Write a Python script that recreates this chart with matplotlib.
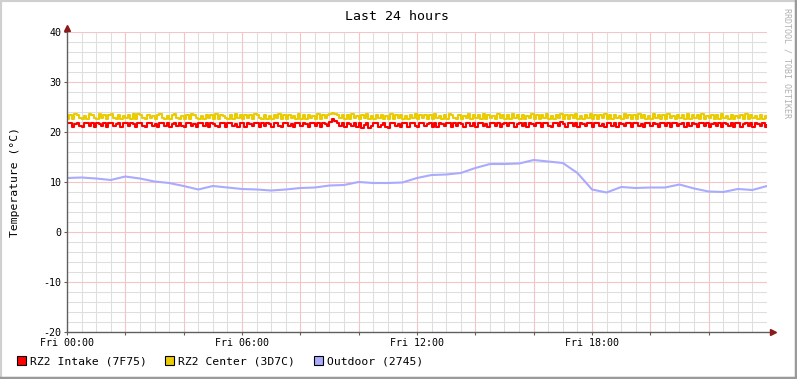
import numpy as np
import matplotlib
matplotlib.use("Agg")
import matplotlib.pyplot as plt
from matplotlib.patches import Rectangle
from matplotlib.lines import Line2D

# Temperatures sampled every 5 minutes over the last 24 hours (one row = 2 hours)
intake = [
    21.9, 21.8, 21.1, 21.7, 21.9, 21.2, 21.0, 21.8, 21.9, 21.3, 21.8, 21.1, 21.9, 21.7, 21.2, 21.8, 21.0, 21.9, 21.8, 21.2, 21.6, 21.9, 21.1, 21.8,
    21.8, 21.2, 21.9, 21.7, 21.1, 21.8, 21.9, 21.3, 21.0, 21.8, 21.9, 21.2, 21.7, 21.1, 21.9, 21.8, 21.2, 21.9, 21.0, 21.7, 21.8, 21.2, 21.9, 21.3,
    21.1, 21.8, 21.9, 21.2, 21.7, 21.0, 21.9, 21.8, 21.3, 21.8, 21.1, 21.9, 21.7, 21.2, 21.0, 21.9, 21.8, 21.1, 21.8, 21.9, 21.2, 21.7, 21.1, 21.9,
    21.8, 21.1, 21.9, 21.7, 21.2, 21.9, 21.8, 21.0, 21.8, 21.2, 21.9, 21.7, 21.1, 21.8, 21.9, 21.2, 21.0, 21.8, 21.9, 21.3, 21.7, 21.1, 21.9, 21.8,
    21.2, 21.9, 21.7, 21.1, 21.8, 21.9, 21.2, 21.8, 21.0, 21.9, 21.7, 21.2, 22.1, 22.6, 22.3, 21.9, 21.2, 21.8, 21.1, 21.9, 21.7, 21.2, 21.8, 21.0,
    21.8, 20.9, 21.4, 21.9, 20.8, 21.2, 21.8, 21.9, 21.0, 21.5, 21.9, 21.1, 20.9, 21.8, 21.9, 21.2, 21.7, 21.0, 21.9, 21.8, 21.1, 21.8, 21.9, 21.3,
    21.1, 21.9, 21.8, 21.2, 21.7, 21.9, 21.1, 21.8, 21.0, 21.9, 21.7, 21.2, 21.8, 21.9, 21.1, 21.8, 21.2, 21.9, 21.7, 21.1, 21.9, 21.8, 21.2, 21.8,
    21.0, 21.8, 21.9, 21.2, 21.7, 21.1, 21.9, 21.8, 21.2, 21.9, 21.0, 21.7, 21.8, 21.2, 21.9, 21.8, 21.1, 21.7, 21.9, 21.2, 21.8, 21.0, 21.9, 21.7,
    21.2, 21.9, 21.8, 21.1, 21.8, 21.9, 21.2, 21.0, 21.9, 21.8, 21.2, 22.0, 21.7, 21.1, 21.9, 21.8, 21.2, 21.8, 21.0, 21.9, 21.7, 21.2, 21.8, 21.9,
    21.1, 21.8, 21.9, 21.2, 21.7, 21.0, 21.9, 21.8, 21.2, 21.9, 21.1, 21.8, 21.7, 21.2, 21.9, 21.8, 21.0, 21.8, 21.9, 21.2, 21.7, 21.1, 21.9, 21.8,
    21.2, 21.9, 21.7, 21.1, 21.8, 21.9, 21.2, 21.8, 21.0, 21.9, 21.8, 21.2, 21.7, 21.9, 21.1, 21.8, 21.2, 21.9, 21.7, 21.0, 21.8, 21.9, 21.2, 21.8,
    21.0, 21.7, 21.9, 21.2, 21.8, 21.1, 21.9, 21.7, 21.2, 21.8, 21.0, 21.9, 21.8, 21.1, 21.7, 21.9, 21.2, 21.8, 21.0, 21.9, 21.7, 21.2, 21.8, 21.1,
    21.4]
center = [
    22.6, 23.5, 22.7, 23.6, 23.4, 22.8, 22.7, 23.3, 22.6, 23.6, 23.5, 22.8, 22.7, 23.6, 22.9, 23.4, 22.6, 23.5, 23.6, 22.8, 22.7, 23.4, 22.6, 23.2,
    22.8, 23.5, 22.7, 23.6, 22.6, 23.6, 23.4, 22.8, 22.7, 23.5, 22.9, 23.3, 22.6, 23.4, 23.6, 22.8, 22.7, 23.2, 22.6, 23.5, 23.6, 22.8, 22.7, 23.3,
    22.7, 23.4, 22.6, 23.6, 23.5, 22.8, 22.7, 23.3, 22.6, 23.5, 22.8, 23.4, 22.7, 23.6, 22.6, 23.5, 23.3, 22.8, 22.7, 23.5, 22.6, 23.6, 22.8, 23.4,
    22.6, 23.5, 22.8, 23.4, 22.7, 23.6, 23.5, 22.8, 22.6, 23.4, 22.7, 23.3, 22.6, 23.5, 22.8, 23.6, 22.7, 23.4, 22.6, 23.5, 22.8, 23.3, 22.7, 23.6,
    22.7, 23.4, 22.6, 23.5, 22.8, 23.3, 22.7, 23.6, 22.6, 23.5, 22.9, 23.5, 23.6, 23.9, 23.7, 23.4, 22.8, 23.5, 22.7, 23.4, 22.6, 23.6, 22.8, 23.3,
    22.6, 23.5, 22.8, 23.6, 22.7, 23.2, 22.6, 23.5, 22.8, 23.4, 22.6, 23.3, 22.7, 23.6, 22.6, 23.4, 22.8, 23.5, 22.7, 23.2, 22.6, 23.5, 22.8, 23.6,
    22.7, 23.5, 22.8, 23.4, 22.6, 23.5, 22.7, 23.6, 22.8, 23.3, 22.6, 23.5, 22.7, 23.6, 23.4, 22.8, 22.6, 23.5, 22.7, 23.3, 22.8, 23.6, 22.6, 23.4,
    22.8, 23.4, 22.7, 23.6, 22.6, 23.5, 22.8, 23.3, 22.7, 23.6, 22.8, 23.4, 22.6, 23.5, 22.7, 23.6, 22.8, 23.4, 22.6, 23.5, 22.7, 23.3, 22.8, 23.6,
    22.6, 23.5, 22.7, 23.4, 22.8, 23.6, 22.7, 23.3, 22.6, 23.5, 22.8, 23.6, 22.7, 23.5, 22.6, 23.4, 22.8, 23.6, 22.7, 23.3, 22.6, 23.5, 22.8, 23.6,
    22.7, 23.4, 22.6, 23.5, 22.8, 23.6, 22.7, 23.4, 22.6, 23.5, 22.8, 23.3, 22.7, 23.6, 22.8, 23.5, 22.6, 23.4, 22.7, 23.6, 22.8, 23.5, 22.6, 23.3,
    22.7, 23.6, 22.8, 23.4, 22.6, 23.5, 22.7, 23.6, 22.8, 23.3, 22.6, 23.4, 22.8, 23.5, 22.7, 23.6, 22.6, 23.4, 22.8, 23.5, 22.7, 23.6, 22.6, 23.3,
    22.8, 23.5, 22.6, 23.4, 22.7, 23.6, 22.8, 23.3, 22.6, 23.5, 22.7, 23.2, 22.8, 23.5, 22.6, 23.6, 22.7, 23.4, 22.8, 23.3, 22.6, 23.5, 22.7, 23.2,
    22.8]
# Outdoor sampled every 30 minutes
outdoor = [10.8, 10.9, 10.7, 10.4, 11.1, 10.7, 10.1, 9.8, 9.2, 8.5, 9.2, 8.9,
           8.6, 8.5, 8.3, 8.5, 8.8, 8.9, 9.3, 9.4, 10.0, 9.8, 9.8, 9.9,
           10.8, 11.4, 11.5, 11.8, 12.8, 13.6, 13.6, 13.7, 14.4, 14.1, 13.8, 11.8,
           8.5, 7.9, 9.0, 8.8, 8.9, 8.9, 9.5, 8.7, 8.1, 8.0, 8.6, 8.4, 9.2]

series_names = ["RZ2 Intake (7F75)", "RZ2 Center (3D7C)", "Outdoor (2745)"]
series_colors = ["#FF0000", "#EACC00", "#AAAAFF"]
x_labels = ["Fri 00:00", "Fri 06:00", "Fri 12:00", "Fri 18:00"]

W, H = 797, 379
fig = plt.figure(figsize=(W / 100, H / 100), dpi=100, facecolor="white")
ax = fig.add_axes([67 / W, (H - 332) / H, 700 / W, 300 / H])

mono = "DejaVu Sans Mono"

t_fast = np.arange(len(intake)) * 5 / 60
t_slow = np.arange(len(outdoor)) * 30 / 60

lw = 1.5
ax.plot(t_fast, center, color=series_colors[1], lw=lw, drawstyle="steps-post", zorder=3)
ax.plot(t_fast, intake, color=series_colors[0], lw=lw, drawstyle="steps-post", zorder=3)
ax.plot(t_slow, outdoor, color=series_colors[2], lw=lw, zorder=3)

ax.set_xlim(0, 24)
ax.set_ylim(-20, 40)

# grid: minor every 30 min / 2 deg, major every 2 h / 10 deg
for h in np.arange(0.5, 24, 0.5):
    ax.axvline(h, color="#dedede", lw=0.75, zorder=1)
for v in np.arange(-18, 40, 2):
    ax.axhline(v, color="#dedede", lw=0.75, zorder=1)
for h in np.arange(2, 24, 2):
    ax.axvline(h, color="#f6c4c4", lw=0.75, zorder=2)
for v in np.arange(-10, 41, 10):
    ax.axhline(v, color="#f6c4c4", lw=0.75, zorder=2)

for s in ax.spines.values():
    s.set_visible(False)
ax.set_facecolor("white")

ax.set_xticks(np.arange(0, 24, 2))
ax.set_xticklabels([x_labels[i // 3] if i % 3 == 0 else "" for i in range(12)],
                   fontfamily=mono, fontsize=7.2)
ax.set_yticks(np.arange(-20, 41, 10))
ax.set_yticklabels([str(v) for v in range(-20, 41, 10)], fontfamily=mono, fontsize=7.2)
ax.tick_params(axis="both", length=2, width=0.8, color="#606060", pad=2)

# axis lines with arrows
ax.add_line(Line2D([0, 1.006], [0, 0], transform=ax.transAxes, color="#606060",
                   lw=1, clip_on=False, zorder=5))
ax.add_line(Line2D([0, 0], [0, 1.01], transform=ax.transAxes, color="#606060",
                   lw=1, clip_on=False, zorder=5))
ax.plot([1.008], [0], marker=">", color="#8b1a1a", ms=4, transform=ax.transAxes,
        clip_on=False, zorder=6)
ax.plot([0], [1.012], marker="^", color="#8b1a1a", ms=4, transform=ax.transAxes,
        clip_on=False, zorder=6)

fig.text(397 / W, 1 - 16 / H, "Last 24 hours", ha="center", va="center",
         fontfamily=mono, fontsize=9.5)
fig.text(15 / W, 1 - 182 / H, "Temperature (°C)", ha="center", va="center",
         rotation=90, fontfamily=mono, fontsize=8.2)
fig.text(787 / W, 1 - 63 / H, "RRDTOOL / TOBI OETIKER", ha="center", va="center",
         rotation=270, fontfamily=mono, fontsize=6, color="#b0b0b0")

# legend
legend_x = [17, 165, 314]
for x0, name, col in zip(legend_x, series_names, series_colors):
    fig.patches.append(Rectangle((x0 / W, 1 - 365 / H), 9 / W, 9 / H, facecolor=col,
                                 edgecolor="black", lw=0.8, transform=fig.transFigure))
    fig.text((x0 + 13) / W, 1 - 361 / H, name, ha="left", va="center",
             fontfamily=mono, fontsize=8.2)

# shaded frame
fig.patches.append(Rectangle((0, 0), 1, 1, fill=False, edgecolor="#cfcfcf", lw=3,
                             transform=fig.transFigure))
fig.add_artist(Line2D([0, 1], [1.5 / H, 1.5 / H], color="#9a9a9a", lw=2.5,
                      transform=fig.transFigure))
fig.add_artist(Line2D([1 - 1.5 / W, 1 - 1.5 / W], [0, 1], color="#9a9a9a", lw=2.5,
                      transform=fig.transFigure))

fig.savefig("out.png", dpi=100, facecolor="white")
